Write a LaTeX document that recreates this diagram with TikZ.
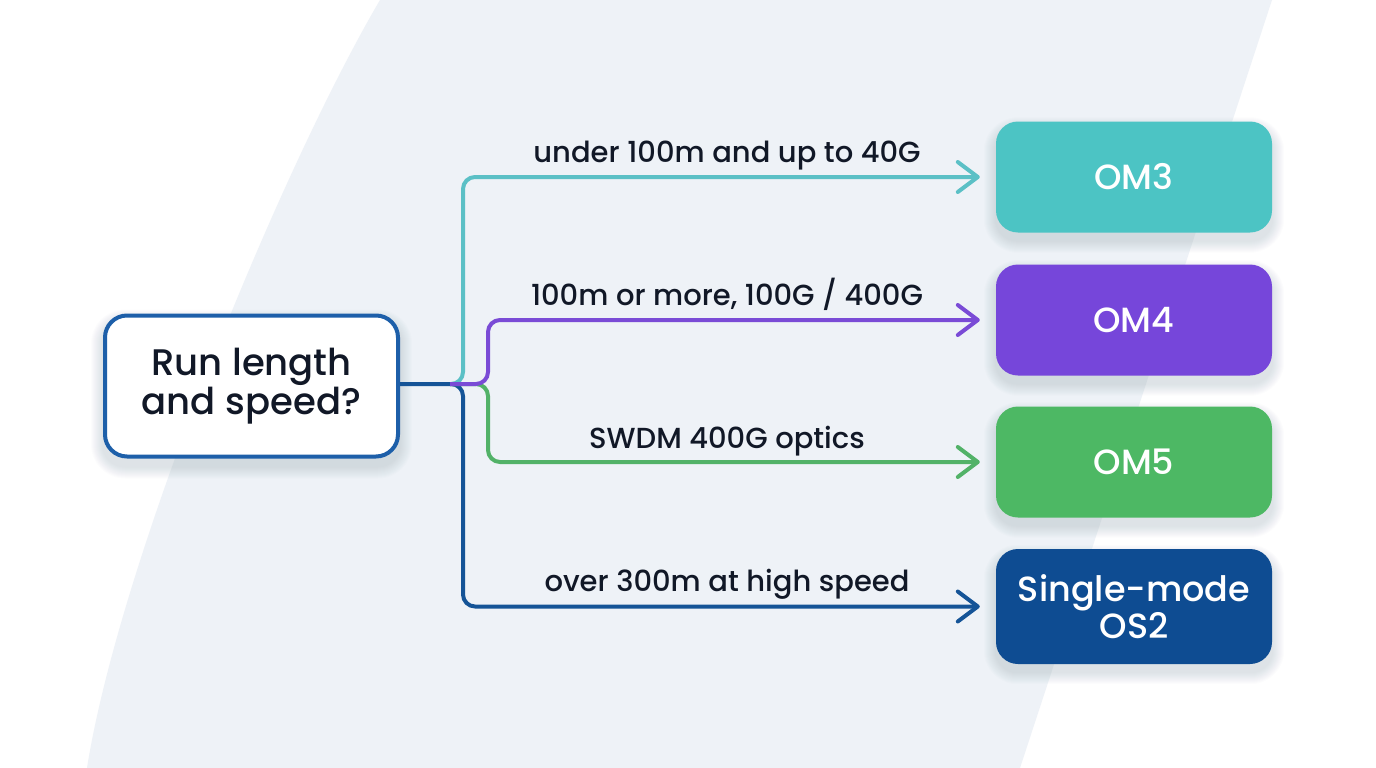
\documentclass[tikz,border=0pt]{standalone}
\usepackage{fontspec}
\setmainfont{Poppins}[UprightFont=* Medium, BoldFont=* SemiBold]
\usetikzlibrary{arrows.meta}
\pgfdeclarelayer{bg}
\pgfsetlayers{bg,main}
\definecolor{bandc}{HTML}{EEF2F7}
\definecolor{om3c}{HTML}{4CC4C4}
\definecolor{om4c}{HTML}{7646DA}
\definecolor{om5c}{HTML}{4DB864}
\definecolor{os2c}{HTML}{0E4C92}
\definecolor{qline}{HTML}{1D5FA9}
\definecolor{l1c}{HTML}{5BC0C6}
\definecolor{l2c}{HTML}{7A4BD6}
\definecolor{l3c}{HTML}{52B268}
\definecolor{l4c}{HTML}{155497}
\definecolor{txt}{HTML}{111827}
\definecolor{shc}{HTML}{3A4A60}
\tikzset{
  qbox/.style={draw=qline, line width=4pt, fill=white, rounded corners=22pt,
    minimum width=293pt, minimum height=141pt, align=center, text=txt,
    font=\fontsize{37}{39}\selectfont},
  obox/.style={rounded corners=22pt, minimum width=276pt, minimum height=111pt,
    align=center, text=white, font=\fontsize{35}{32}\selectfont},
  conn/.style={line width=4pt, rounded corners=12pt,
    -{Straight Barb[length=20pt,width=30pt,line width=4pt,round]}},
  lbl/.style={text=txt, font=\fontsize{29}{30}\selectfont, anchor=base, inner sep=0pt}
}
\newcommand{\softshadow}[1]{%
  \foreach \i in {1,...,12}{%
    \fill[shc, opacity=0.010, rounded corners={22pt+\i pt}]
      ([shift={(-\i,{-\i+8})}]#1.north west) rectangle ([shift={(\i,{\i+8})}]#1.south east);
  }%
}
\begin{document}
\begin{tikzpicture}[x=1pt,y=-1pt]
\useasboundingbox (0,0) rectangle (1376,768);
\begin{pgfonlayer}{bg}
\fill[white] (0,0) rectangle (1376,768);
\fill[bandc] (380,0) .. controls (280,170) and (120,560) .. (87,768) -- (1020,768) -- (1272,0) -- cycle;
\end{pgfonlayer}

\node[qbox] (q) at (251.5,386) {Run length\\and speed?};
\node[obox, fill=om3c] (om3) at (1134,177) {OM3};
\node[obox, fill=om4c] (om4) at (1134,320) {OM4};
\node[obox, fill=om5c] (om5) at (1134,462) {OM5};
\node[obox, fill=os2c, minimum height=115pt] (os2) at (1134,606.5) {Single-mode\\OS2};

\begin{pgfonlayer}{bg}
\softshadow{q}
\softshadow{om3}
\softshadow{om4}
\softshadow{om5}
\softshadow{os2}
\end{pgfonlayer}

\coordinate (j0) at (450,384);
\coordinate (j) at (463,384);
\coordinate (k) at (488,384);

\draw[conn, l4c] (q.east |- j) -- (j) |- ([xshift=-16pt]os2.west);
\draw[conn, l3c] (j0) -- (k) |- ([xshift=-16pt]om5.west);
\draw[conn, l1c] (j0) -- (j) |- ([xshift=-16pt]om3.west);
\draw[conn, l2c] (j0) -- (k) |- ([xshift=-16pt]om4.west);

\node[lbl] (t1) at (727,162) {under 100m and up to 40G};
\node[lbl] (t2) at (727,305) {100m or more, 100G / 400G};
\node[lbl] (t3) at (727,448) {SWDM 400G optics};
\node[lbl] (t4) at (727,591) {over 300m at high speed};
\end{tikzpicture}
\end{document}
